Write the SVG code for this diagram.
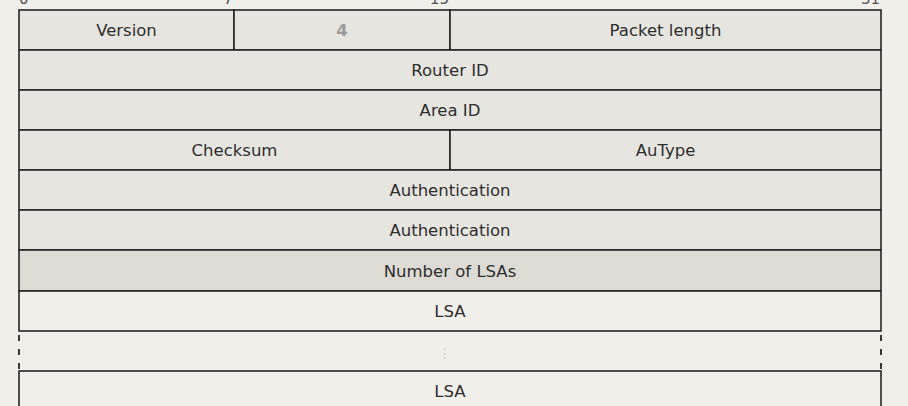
<svg xmlns="http://www.w3.org/2000/svg" width="908" height="406" viewBox="0 0 908 406">
<style>
  .bg{fill:#f1efea}
  .f{fill:#e7e5e0;stroke:#262626;stroke-width:1.6}
  .n{fill:#dedbd5;stroke:#262626;stroke-width:1.6}
  .l{fill:#f1efea;stroke:#262626;stroke-width:1.6}
  text{font-family:"DejaVu Sans","Liberation Sans",sans-serif;font-size:16.5px;fill:#2e2e2e;text-anchor:middle}
  .bit{font-size:15px;fill:#555}
  .g{fill:#9a9a9a;font-weight:bold}
  .dots{fill:#cfcdc8;font-size:14px}
  .dash{stroke:#262626;stroke-width:1.8;stroke-dasharray:6 8;fill:none}
</style>
<rect class="bg" x="0" y="0" width="908" height="406"/>
<g id="bits">
  <text class="bit" x="19" y="4" style="text-anchor:start">0</text>
  <text class="bit" x="233" y="4" style="text-anchor:end">7</text>
  <text class="bit" x="449" y="4" style="text-anchor:end">15</text>
  <text class="bit" x="880" y="4" style="text-anchor:end">31</text>
</g>
<g id="version"><rect class="f" x="19" y="10" width="215" height="40"/><text x="126.5" y="35.5">Version</text></g>
<g id="four"><rect class="f" x="234" y="10" width="216" height="40"/><text class="g" x="342" y="35.5">4</text></g>
<g id="packet-length"><rect class="f" x="450" y="10" width="431" height="40"/><text x="665.5" y="35.5">Packet length</text></g>
<g id="router-id"><rect class="f" x="19" y="50" width="862" height="40"/><text x="450" y="75.5">Router ID</text></g>
<g id="area-id"><rect class="f" x="19" y="90" width="862" height="40"/><text x="450" y="115.5">Area ID</text></g>
<g id="checksum"><rect class="f" x="19" y="130" width="431" height="40"/><text x="234.5" y="155.5">Checksum</text></g>
<g id="autype"><rect class="f" x="450" y="130" width="431" height="40"/><text x="665.5" y="155.5">AuType</text></g>
<g id="authentication-1"><rect class="f" x="19" y="170" width="862" height="40"/><text x="450" y="195.5">Authentication</text></g>
<g id="authentication-2"><rect class="f" x="19" y="210" width="862" height="40"/><text x="450" y="235.5">Authentication</text></g>
<g id="number-of-lsas"><rect class="n" x="19" y="250" width="862" height="41"/><text x="450" y="276.5">Number of LSAs</text></g>
<g id="lsa-1"><rect class="l" x="19" y="291" width="862" height="40"/><text x="450" y="317">LSA</text></g>
<g id="ellipsis"><text class="dots" x="445" y="358">⋮</text></g>
<g id="lsa-2"><rect class="l" x="19" y="371" width="862" height="50"/><text x="450" y="397">LSA</text></g>
<g id="connectors">
  <line class="dash" x1="19" y1="335" x2="19" y2="371"/>
  <line class="dash" x1="881" y1="335" x2="881" y2="371"/>
</g>
</svg>
